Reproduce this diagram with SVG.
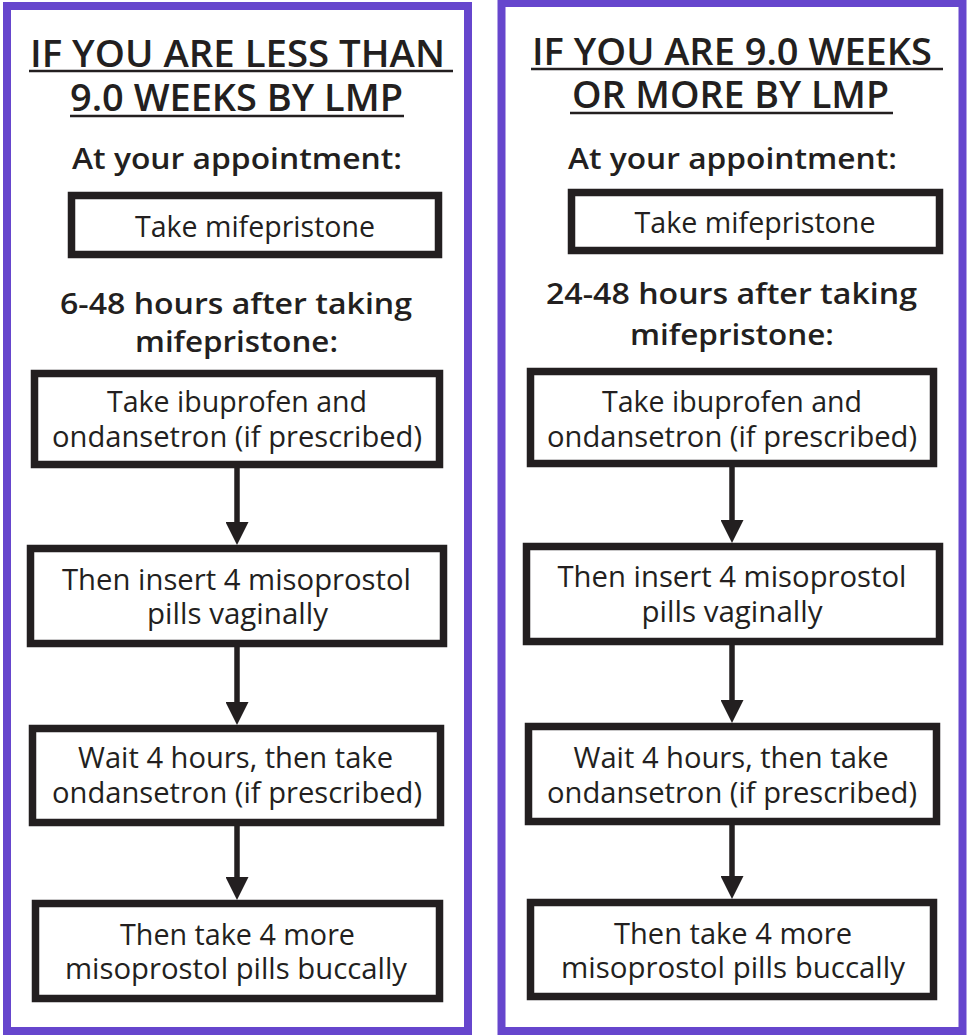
<svg xmlns="http://www.w3.org/2000/svg" width="970" height="1036" viewBox="0 0 970 1036">
<defs>
<style>
.panel{fill:#fff;stroke:#6646cd;stroke-width:8}
.box{fill:#fff;stroke:#231f20;stroke-width:7.5}
.t{font-family:"Open Sans","Noto Sans","Liberation Sans",sans-serif;fill:#231f20;text-anchor:middle}
.title{font-size:37px;font-weight:600}
.sub{font-size:29px;font-weight:600}
.bt{font-size:29.5px;font-weight:400}
.ul{stroke:#231f20;stroke-width:2.6}
.conn{stroke:#231f20;stroke-width:5.5;fill:none;marker-end:url(#arr)}
</style>
<marker id="arr" viewBox="0 0 23 23" refX="0" refY="11.5" markerWidth="23" markerHeight="23" markerUnits="userSpaceOnUse" orient="auto">
<path d="M0,0 L23,11.5 L0,23 Z" fill="#231f20"/>
</marker>
</defs>
<rect width="970" height="1036" fill="#fff"/>

<g id="panel-left">
<rect class="panel" x="7" y="6" width="461" height="1025"/>
<text class="t title" x="237.5" y="67" textLength="415" lengthAdjust="spacingAndGlyphs">IF YOU ARE LESS THAN</text>
<line class="ul" x1="29" y1="71" x2="453" y2="71"/>
<text class="t title" x="236.5" y="111" textLength="333" lengthAdjust="spacingAndGlyphs">9.0 WEEKS BY LMP</text>
<line class="ul" x1="70" y1="116" x2="404" y2="116"/>
<text class="t sub" x="237" y="169" textLength="330" lengthAdjust="spacingAndGlyphs">At your appointment:</text>
<text class="t sub" x="236" y="314" textLength="352" lengthAdjust="spacingAndGlyphs">6-48 hours after taking</text>
<text class="t sub" x="236.5" y="352" textLength="203" lengthAdjust="spacingAndGlyphs">mifepristone:</text>
</g>

<g id="panel-right">
<rect class="panel" x="501.5" y="3" width="461" height="1028"/>
<text class="t title" x="732" y="65" textLength="400" lengthAdjust="spacingAndGlyphs">IF YOU ARE 9.0 WEEKS</text>
<line class="ul" x1="531" y1="69" x2="943" y2="69"/>
<text class="t title" x="730.5" y="108" textLength="317" lengthAdjust="spacingAndGlyphs">OR MORE BY LMP</text>
<line class="ul" x1="570" y1="113" x2="893" y2="113"/>
<text class="t sub" x="732.5" y="169" textLength="329" lengthAdjust="spacingAndGlyphs">At your appointment:</text>
<text class="t sub" x="731.5" y="304" textLength="371" lengthAdjust="spacingAndGlyphs">24-48 hours after taking</text>
<text class="t sub" x="732" y="345" textLength="204" lengthAdjust="spacingAndGlyphs">mifepristone:</text>
</g>

<g id="L1">
<rect class="box" x="71.5" y="195.5" width="367" height="59"/>
<text class="t bt" x="255" y="237" textLength="240" lengthAdjust="spacingAndGlyphs">Take mifepristone</text>
</g>
<g id="L2">
<rect class="box" x="34.5" y="373.5" width="405" height="91"/>
<text class="t bt" x="237" y="412" textLength="260" lengthAdjust="spacingAndGlyphs">Take ibuprofen and</text>
<text class="t bt" x="237" y="447" textLength="370" lengthAdjust="spacingAndGlyphs">ondansetron (if prescribed)</text>
</g>
<g id="L3">
<rect class="box" x="30.5" y="548.5" width="413" height="95"/>
<text class="t bt" x="236.5" y="589.5" textLength="349" lengthAdjust="spacingAndGlyphs">Then insert 4 misoprostol</text>
<text class="t bt" x="237.5" y="623.5" textLength="181" lengthAdjust="spacingAndGlyphs">pills vaginally</text>
</g>
<g id="L4">
<rect class="box" x="32.5" y="728.5" width="408" height="94"/>
<text class="t bt" x="235.5" y="768" textLength="315" lengthAdjust="spacingAndGlyphs">Wait 4 hours, then take</text>
<text class="t bt" x="237" y="803" textLength="370" lengthAdjust="spacingAndGlyphs">ondansetron (if prescribed)</text>
</g>
<g id="L5">
<rect class="box" x="35.5" y="903.5" width="404" height="95"/>
<text class="t bt" x="237.5" y="944.5" textLength="235" lengthAdjust="spacingAndGlyphs">Then take 4 more</text>
<text class="t bt" x="236" y="979" textLength="342" lengthAdjust="spacingAndGlyphs">misoprostol pills buccally</text>
</g>

<g id="R1">
<rect class="box" x="571.5" y="192.5" width="368" height="58"/>
<text class="t bt" x="755" y="233" textLength="241" lengthAdjust="spacingAndGlyphs">Take mifepristone</text>
</g>
<g id="R2">
<rect class="box" x="530.5" y="371.5" width="403" height="92"/>
<text class="t bt" x="732" y="411.5" textLength="260" lengthAdjust="spacingAndGlyphs">Take ibuprofen and</text>
<text class="t bt" x="732" y="446.5" textLength="370" lengthAdjust="spacingAndGlyphs">ondansetron (if prescribed)</text>
</g>
<g id="R3">
<rect class="box" x="526.5" y="546.5" width="413" height="95"/>
<text class="t bt" x="732" y="587" textLength="349" lengthAdjust="spacingAndGlyphs">Then insert 4 misoprostol</text>
<text class="t bt" x="732" y="621.5" textLength="181" lengthAdjust="spacingAndGlyphs">pills vaginally</text>
</g>
<g id="R4">
<rect class="box" x="528.5" y="726.5" width="408" height="95"/>
<text class="t bt" x="731" y="767.5" textLength="315" lengthAdjust="spacingAndGlyphs">Wait 4 hours, then take</text>
<text class="t bt" x="732" y="802.5" textLength="370" lengthAdjust="spacingAndGlyphs">ondansetron (if prescribed)</text>
</g>
<g id="R5">
<rect class="box" x="530.5" y="902.5" width="403" height="94"/>
<text class="t bt" x="733" y="943.5" textLength="238" lengthAdjust="spacingAndGlyphs">Then take 4 more</text>
<text class="t bt" x="733" y="978" textLength="344" lengthAdjust="spacingAndGlyphs">misoprostol pills buccally</text>
</g>

<g id="connectors">
<line class="conn" x1="237" y1="468" x2="237" y2="522"/>
<line class="conn" x1="237" y1="647" x2="237" y2="702"/>
<line class="conn" x1="237" y1="826" x2="237" y2="877"/>
<line class="conn" x1="732" y1="467" x2="732" y2="520"/>
<line class="conn" x1="732" y1="645" x2="732" y2="700"/>
<line class="conn" x1="732" y1="825" x2="732" y2="876"/>
</g>
</svg>
